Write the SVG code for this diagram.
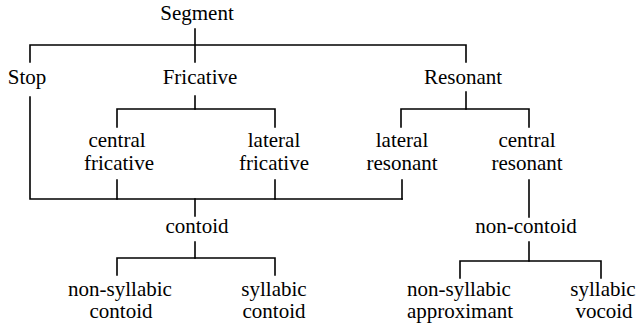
<svg xmlns="http://www.w3.org/2000/svg" width="638" height="328" viewBox="0 0 638 328">
  <style>
    .lbl { font-family: 'Liberation Serif', 'Times New Roman', Tinos, 'DejaVu Serif', serif; font-size: 21px; fill: #000; text-anchor: middle; }
    .edge { stroke: #000; stroke-width: 1.6; fill: none; stroke-linecap: square; }
  </style>
  <rect width="638" height="328" fill="#fff"/>

  <!-- tree connectors -->
  <g id="connectors" class="edge">
    <path d="M195 29 V62"/>
    <path d="M30 62 V45 H466 V62"/>
    <path d="M30 97 V199 H402"/>
    <path d="M195 96 V109"/>
    <path d="M117 127 V109 H275 V127"/>
    <path d="M466 92 V109"/>
    <path d="M401 127 V109 H529 V127"/>
    <path d="M117 180 V199"/>
    <path d="M275 180 V199"/>
    <path d="M402 180 V199"/>
    <path d="M195 199 V216"/>
    <path d="M529 180 V217"/>
    <path d="M195 242 V258"/>
    <path d="M117 275 V258 H275 V275"/>
    <path d="M529 242 V261"/>
    <path d="M460 278 V261 H601 V278"/>
  </g>

  <g font-family="Liberation Serif, Times New Roman, serif" font-size="21">
  <g id="segment"><text class="lbl" x="197" y="20">Segment</text></g>
  <g id="stop"><text class="lbl" x="27" y="84">Stop</text></g>
  <g id="fricative"><text class="lbl" x="200" y="84">Fricative</text></g>
  <g id="resonant"><text class="lbl" x="463" y="84">Resonant</text></g>

  <g id="central-fricative">
    <text class="lbl" x="117" y="147">central</text>
    <text class="lbl" x="119" y="170">fricative</text>
  </g>
  <g id="lateral-fricative">
    <text class="lbl" x="274" y="147">lateral</text>
    <text class="lbl" x="274" y="170">fricative</text>
  </g>
  <g id="lateral-resonant">
    <text class="lbl" x="402" y="147">lateral</text>
    <text class="lbl" x="402" y="170">resonant</text>
  </g>
  <g id="central-resonant">
    <text class="lbl" x="527" y="147">central</text>
    <text class="lbl" x="527" y="170">resonant</text>
  </g>

  <g id="contoid"><text class="lbl" x="197" y="233">contoid</text></g>
  <g id="non-contoid"><text class="lbl" x="526" y="233">non-contoid</text></g>

  <g id="non-syllabic-contoid">
    <text class="lbl" x="120" y="296">non-syllabic</text>
    <text class="lbl" x="121" y="318">contoid</text>
  </g>
  <g id="syllabic-contoid">
    <text class="lbl" x="274" y="296">syllabic</text>
    <text class="lbl" x="274" y="318">contoid</text>
  </g>
  <g id="non-syllabic-approximant">
    <text class="lbl" x="459" y="296">non-syllabic</text>
    <text class="lbl" x="460" y="318">approximant</text>
  </g>
  <g id="syllabic-vocoid">
    <text class="lbl" x="603" y="296">syllabic</text>
    <text class="lbl" x="604" y="318">vocoid</text>
  </g>
  </g>
</svg>
